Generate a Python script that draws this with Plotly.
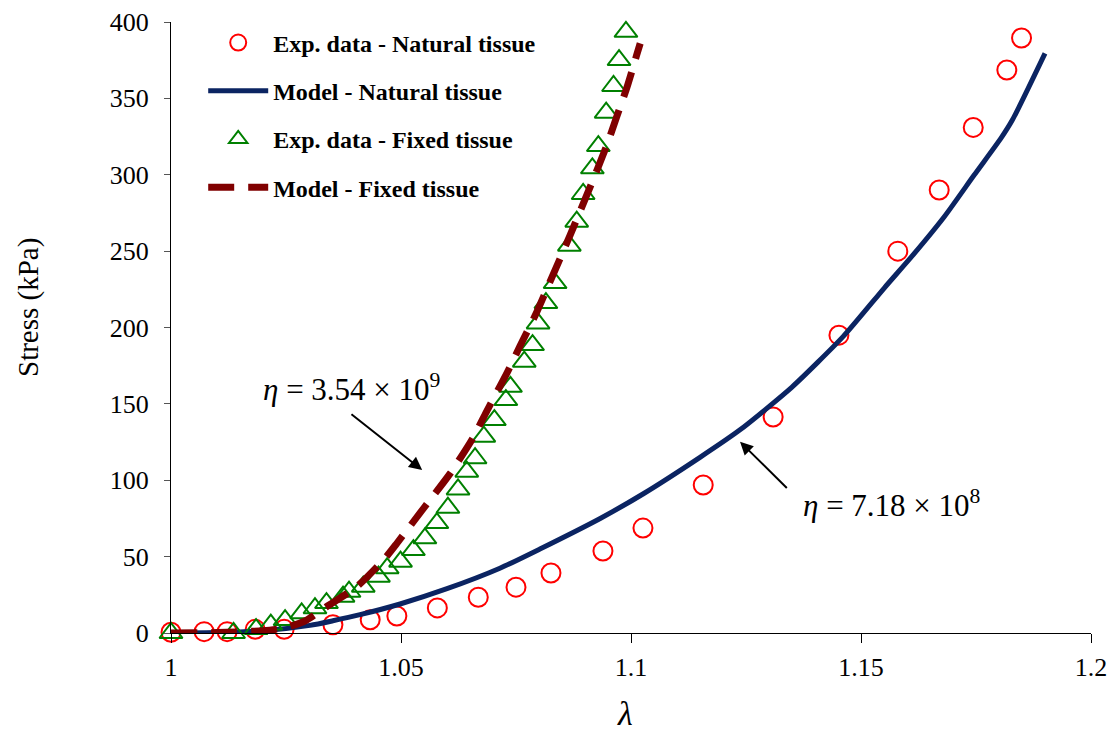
import plotly.graph_objects as go

# ---- data ----
nat_exp_x = [1.0, 1.0072, 1.0122, 1.0183, 1.0246, 1.0352, 1.0433, 1.0491, 1.0579, 1.0668, 1.0750,
             1.0826, 1.0939, 1.1026, 1.1157, 1.1309, 1.1452, 1.1580, 1.1670, 1.1744, 1.1817, 1.1849]
nat_exp_y = [0.5, 0.9, 0.9, 2.4, 2.4, 5.4, 8.7, 11.1, 16.4, 23.4, 30.0,
             39.3, 53.7, 68.7, 96.9, 141.4, 195.0, 250.0, 290.0, 331.0, 368.6, 389.5]

nat_model_x = [1.0, 1.01, 1.02, 1.0302, 1.0352, 1.0411, 1.0498, 1.0600, 1.0715, 1.0802, 1.0933, 1.1026,
               1.1150, 1.1237, 1.1350, 1.1461, 1.1551, 1.1616, 1.1681, 1.1746, 1.1804, 1.1829, 1.1900]
nat_model_y = [0.0, 0.3, 1.5, 5.0, 8.0, 12.0, 19.0, 29.0, 42.4, 55.0, 75.0, 91.0,
               115.0, 133.0, 161.0, 194.0, 226.0, 248.5, 272.5, 299.8, 323.8, 335.8, 379.5]

fix_exp_x = [1.0, 1.0136, 1.0185, 1.0217, 1.0248, 1.0284, 1.0313, 1.0338, 1.0374, 1.0387, 1.0418,
             1.0451, 1.0470, 1.0499, 1.0527, 1.0552, 1.0578, 1.0602, 1.0624, 1.0643, 1.0661, 1.0680,
             1.0703, 1.0728, 1.0738, 1.0768, 1.0786, 1.0798, 1.0815, 1.0835, 1.0866, 1.0882, 1.0896,
             1.0916, 1.0929, 1.0946, 1.0962, 1.0974, 1.0989]
fix_exp_y = [0.0, 0.0, 2.6, 5.5, 8.5, 12.9, 16.2, 19.6, 23.8, 27.0, 30.3,
             36.9, 42.4, 46.7, 54.3, 62.0, 72.0, 82.0, 94.0, 105.6, 114.4, 128.5,
             139.4, 152.5, 161.2, 177.6, 188.5, 202.7, 216.0, 229.1, 253.6, 269.3, 287.4,
             304.2, 318.8, 340.6, 358.1, 375.1, 393.6]

fix_model_x = [1.0, 1.01, 1.02, 1.025, 1.0295, 1.0338, 1.0404, 1.0462, 1.0491, 1.0550, 1.0607, 1.0657,
               1.0686, 1.0730, 1.0759, 1.0795, 1.0824, 1.0867, 1.0918, 1.0947, 1.0969, 1.0991, 1.1012, 1.1020]
fix_model_y = [0.0, 0.3, 1.5, 3.5, 8.5, 17.2, 30.3, 47.8, 58.7, 82.0, 104.5, 128.0,
               145.0, 170.0, 188.0, 210.0, 230.0, 260.0, 297.0, 319.0, 338.0, 357.0, 378.0, 386.0]

x_ticks = [1.0, 1.05, 1.1, 1.15, 1.2]
x_tick_text = ["1", "1.05", "1.1", "1.15", "1.2"]
y_ticks = [0, 50, 100, 150, 200, 250, 300, 350, 400]

names = ["Exp. data - Natural tissue", "Model - Natural tissue",
         "Exp. data - Fixed tissue", "Model - Fixed tissue"]

SERIF = "Liberation Serif"

# the page places the figure 8 px in from the top-left corner
OFF = 8
L, R, T, B = 171 - OFF, 1118 - (1091 - OFF), 22 - OFF, 751 - (633 - OFF)
PW, PH = 1091 - 171, 633 - 22

fig = go.Figure()
fig.add_trace(go.Scatter(x=nat_exp_x, y=nat_exp_y, mode="markers", name=names[0], legendgroup="a",
                         marker=dict(symbol="circle-open", size=19, color="#FF0000", line=dict(width=2, color="#FF0000")),
                         cliponaxis=False))
fig.add_trace(go.Scatter(x=nat_model_x, y=nat_model_y, mode="lines", name=names[1], legendgroup="b",
                         line=dict(color="#0B2462", width=5, shape="spline", smoothing=0.6), cliponaxis=False))
fig.add_trace(go.Scatter(x=fix_exp_x, y=fix_exp_y, mode="markers", name=names[2], legendgroup="c",
                         marker=dict(symbol="triangle-up-open", size=20, color="#008000", line=dict(width=2, color="#008000")),
                         cliponaxis=False))
fig.add_trace(go.Scatter(x=fix_model_x, y=fix_model_y, mode="lines", name=names[3], legendgroup="d",
                         line=dict(color="#800000", width=7, dash="26px,14px", shape="spline", smoothing=0.6),
                         cliponaxis=False))

fig.update_layout(
    width=1118, height=751,
    margin=dict(l=L, r=R, t=T, b=B, autoexpand=False),
    paper_bgcolor="white", plot_bgcolor="white",
    font=dict(family=SERIF, color="black"),
    showlegend=True,
    legend=dict(x=0.035, y=1.0025, xanchor="left", yanchor="top", bgcolor="rgba(0,0,0,0)",
                font=dict(family=SERIF, size=24, color="black", weight="bold"),
                tracegroupgap=14, itemwidth=60, traceorder="grouped"),
    xaxis=dict(range=[1.0, 1.2], tickvals=x_ticks, ticktext=x_tick_text, automargin=False,
               showline=True, linecolor="black", linewidth=1,
               ticks="outside", ticklen=9, tickcolor="black", tickwidth=1,
               showgrid=False, zeroline=False, ticklabelstandoff=2,
               tickfont=dict(family=SERIF, size=26, color="black")),
    yaxis=dict(range=[0, 400], tickvals=y_ticks, automargin=False,
               showline=True, linecolor="black", linewidth=1,
               ticks="outside", ticklen=6, tickcolor="#555555", tickwidth=1,
               showgrid=False, zeroline=False, ticklabelstandoff=10,
               tickfont=dict(family=SERIF, size=26, color="black")),
)

# axis titles (positions in reference pixels, converted to plot-area fractions)
fig.add_annotation(x=(28 - 171) / PW, y=(633 - 308) / PH, xref="paper", yref="paper", showarrow=False,
                   xanchor="center", yanchor="middle",
                   text="Stress (kPa)", textangle=-90, font=dict(family=SERIF, size=29, color="black"))
fig.add_annotation(x=(625 - 171) / PW, y=(633 - 713) / PH, xref="paper", yref="paper", showarrow=False,
                   xanchor="center", yanchor="middle",
                   text="<i>λ</i>", font=dict(family=SERIF, size=34, color="black"))

# annotation texts
fig.add_annotation(x=1.0392, y=161.0, xref="x", yref="y", showarrow=False,
                   xanchor="center", yanchor="middle",
                   text="<i>η</i> = 3.54 × 10<sup>9</sup>",
                   font=dict(family=SERIF, size=31, color="black"))
fig.add_annotation(x=1.1568, y=85.0, xref="x", yref="y", showarrow=False,
                   xanchor="center", yanchor="middle",
                   text="<i>η</i> = 7.18 × 10<sup>8</sup>",
                   font=dict(family=SERIF, size=31, color="black"))
# arrows
fig.add_annotation(x=1.0546, y=106.7, ax=1.0389, ay=144.0, xref="x", yref="y", axref="x", ayref="y",
                   text="", showarrow=True, arrowhead=2, arrowsize=1.3, arrowwidth=2, arrowcolor="black")
fig.add_annotation(x=1.1237, y=125.2, ax=1.1342, ay=94.0, xref="x", yref="y", axref="x", ayref="y",
                   text="", showarrow=True, arrowhead=2, arrowsize=1.3, arrowwidth=2, arrowcolor="black")

fig.write_html("out.html")
